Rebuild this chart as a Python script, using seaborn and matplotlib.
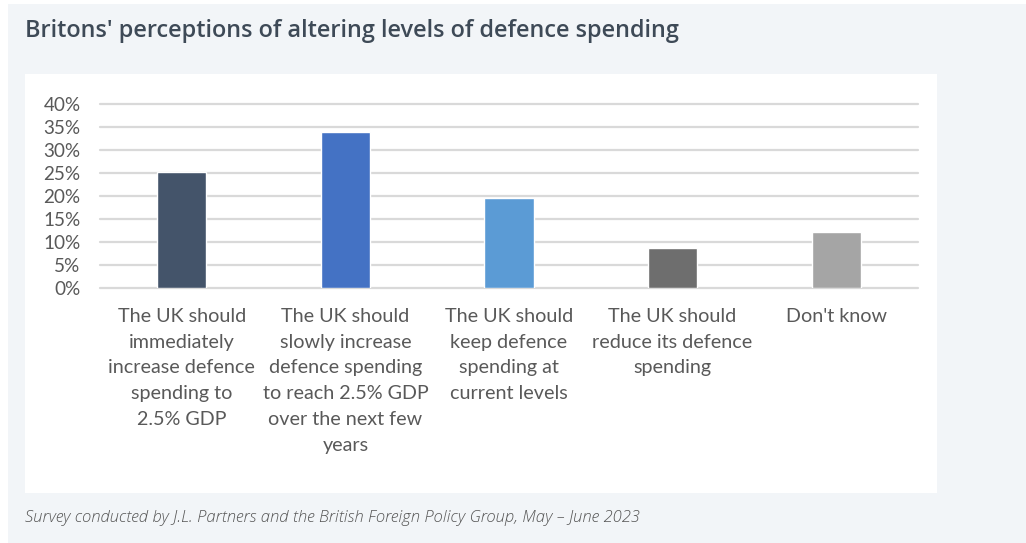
import matplotlib
matplotlib.use("Agg")
import matplotlib.pyplot as plt
from matplotlib.patches import Rectangle
import seaborn as sns
import pandas as pd

# Survey responses (share of respondents, %)
categories = [
    "The UK should\nimmediately\nincrease defence\nspending to\n2.5% GDP",
    "The UK should\nslowly increase\ndefence spending\nto reach 2.5% GDP\nover the next few\nyears",
    "The UK should\nkeep defence\nspending at\ncurrent levels",
    "The UK should\nreduce its defence\nspending",
    "Don't know",
]
shares = [25.2, 34.0, 19.6, 8.8, 12.3]
bar_colors = ["#44546A", "#4472C4", "#5B9BD5", "#6E6E6E", "#A5A5A5"]
y_ticks = [0, 5, 10, 15, 20, 25, 30, 35, 40]
y_tick_labels = [f"{t}%" for t in y_ticks]

title = "Britons' perceptions of altering levels of defence spending"
source = "Survey conducted by J.L. Partners and the British Foreign Policy Group, May \u2013 June 2023"

df = pd.DataFrame({"response": categories, "share": shares})

sns.set_theme(style="white")
plt.rcParams["font.family"] = ["Lato", "DejaVu Sans"]

W, H = 1026, 543
fig = plt.figure(figsize=(W / 100, H / 100), dpi=100)
fig.patch.set_facecolor("white")

# light card background and white chart panel (behind the axes)
fig.patches.append(Rectangle((8 / W, 0), (W - 8) / W, 1 - 4 / H, transform=fig.transFigure,
                             facecolor="#F2F5F8", edgecolor="none", zorder=-2))
fig.patches.append(Rectangle((25 / W, 1 - 493 / H), (937 - 25) / W, (493 - 74) / H,
                             transform=fig.transFigure, facecolor="white",
                             edgecolor="none", zorder=-1))

ax = fig.add_axes([100 / W, 1 - 288.3 / H, (918 - 100) / W, (288.3 - 104.3) / H])
ax.set_facecolor("none")

sns.barplot(data=df, x="response", y="share", hue="response", palette=bar_colors,
            width=0.3, legend=False, saturation=1, ax=ax, zorder=3)

ax.set_ylim(0, 40)
ax.set_xlim(-0.5, len(categories) - 0.5)
ax.set_yticks(y_ticks)
ax.set_yticklabels(y_tick_labels)
ax.set_xlabel("")
ax.set_ylabel("")
ax.grid(axis="y", color="#D9D9D9", linewidth=1.6)
ax.grid(axis="x", visible=False)
ax.set_axisbelow(True)
for gl in ax.get_ygridlines():
    gl.set_clip_on(False)
for s in ax.spines.values():
    s.set_visible(False)

ax.tick_params(axis="y", length=0, pad=14, labelsize=13.6, labelcolor="#595959")
ax.tick_params(axis="x", length=0, pad=14, labelsize=14.2, labelcolor="#595959")
for lbl in ax.get_xticklabels():
    lbl.set_linespacing(1.63)
    lbl.set_verticalalignment("top")

fig.text(25 / W, 1 - 31 / H, title, fontsize=16.9, fontweight="semibold",
         color="#3E4A57", family=["Open Sans", "DejaVu Sans"], va="center", ha="left")
fig.text(25 / W, 1 - 518 / H, source, fontsize=12, style="italic", fontweight="light",
         color="#555555", family=["Open Sans", "DejaVu Sans"], va="center", ha="left")

fig.savefig("out.png", dpi=100, facecolor=fig.get_facecolor())
